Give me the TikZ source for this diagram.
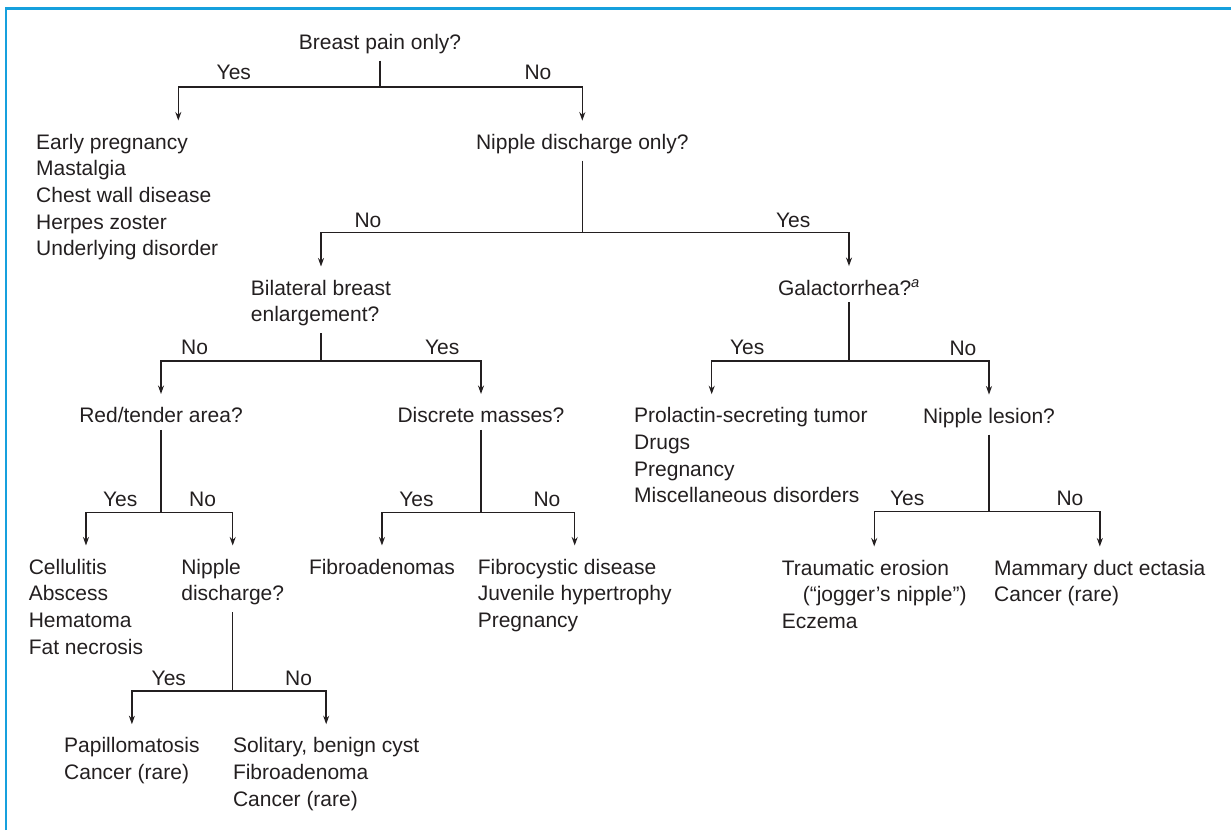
\documentclass[tikz,border=0pt]{standalone}
\usepackage{fontspec}
\setmainfont{Liberation Sans}
\usepackage{tikz}
\usetikzlibrary{arrows.meta}

\definecolor{framecyan}{RGB}{22,160,221}
\definecolor{inkgray}{RGB}{35,31,32}

\begin{document}
\begin{tikzpicture}[x=1pt, y=-1pt, >={Stealth[length=8.5pt, width=6pt]},
        every node/.style={inner sep=0pt, outer sep=0pt, text=inkgray,
            font=\fontsize{21}{26.6}\selectfont},
        ask/.style={anchor=base},
        asktwo/.style={anchor=north, align=left},
        list/.style={anchor=north west, align=left},
        ans/.style={anchor=base west},
        stem/.style={draw=inkgray, line width=1.4pt, shorten <=7pt},
        branch/.style={draw=inkgray, line width=1.4pt, ->, shorten >=13.5pt}]
            \useasboundingbox (0,0) rectangle (1231,830);
            \draw[framecyan, line width=2.8pt] (6,830) -- (6,8.5) -- (1231,8.5);

            % questions
            \node[ask] (q1) at (380,49.3) {Breast pain only?};
            \node[ask] (q2) at (582.3,149.3) {Nipple discharge only?};
            \node[asktwo] (q3) at (321,280) {Bilateral breast\\enlargement?};
            \node[ask] (q4) at (849,295) {Galactorrhea?\textsuperscript{\itshape a}};
            \node[ask] (q5) at (161,422.7) {Red/tender area?};
            \node[ask] (q6) at (481,422.7) {Discrete masses?};
            \node[ask] (q7) at (989,423.3) {Nipple lesion?};
            \node[asktwo] (q8) at (232.7,559) {Nipple\\discharge?};

            % outcomes
            \node[list] (a1) at (36.2,134) {Early pregnancy\\Mastalgia\\Chest wall disease\\Herpes zoster\\Underlying disorder};
            \node[list] (a2) at (634.2,407.7) {Prolactin-secreting tumor\\Drugs\\Pregnancy\\Miscellaneous disorders};
            \node[list] (a3) at (28.8,559) {Cellulitis\\Abscess\\Hematoma\\Fat necrosis};
            \node[list] (a4) at (309,559) {Fibroadenomas};
            \node[list] (a5) at (477.8,559) {Fibrocystic disease\\Juvenile hypertrophy\\Pregnancy};
            \node[list] (a6) at (781.8,560) {Traumatic erosion\\\hspace*{21pt}(“jogger’s nipple”)\\Eczema};
            \node[list] (a7) at (994.2,560) {Mammary duct ectasia\\Cancer (rare)};
            \node[list] (a8) at (64.2,737.7) {Papillomatosis\\Cancer (rare)};
            \node[list] (a9) at (233,737.7) {Solitary, benign cyst\\Fibroadenoma\\Cancer (rare)};

            % branch points
            \coordinate (j1) at (380,87);
            \coordinate (j2) at (582.3,232.3);
            \coordinate (j3) at (321,361);
            \coordinate (j4) at (849,361);
            \coordinate (j5) at (161,512.3);
            \coordinate (j6) at (481,512.3);
            \coordinate (j7) at (989,511.7);
            \coordinate (j8) at (232.7,691);
            \coordinate (a1in) at (178.3,134);
            \coordinate (a2in) at (711.7,407.7);

            \foreach \p/\j/\l/\r in {q1/j1/a1in/q2, q2/j2/q3/q4, q3/j3/q5/q6,
                    q4/j4/a2in/q7, q5/j5/a3/q8, q6/j6/a4/a5, q7/j7/a6/a7, q8/j8/a8/a9} {
                \draw[stem] (\p) -- (\j);
                \draw[branch] (\j) -| (\l);
                \draw[branch] (\j) -| (\r);
            }

            \foreach \t/\x/\y [count=\i] in {Yes/216.7/79.3, No/524.5/79,
                    No/354.5/227.7, Yes/776/227.7, No/181.2/354.3, Yes/425/354.3,
                    Yes/730/354.3, No/949.5/355, Yes/103/506, No/189.2/506,
                    Yes/399.3/506, No/533.5/506, Yes/890/505, No/1056.5/505,
                    Yes/151.7/685, No/285.2/685} {
                \node[ans] (lab\i) at (\x,\y) {\t};
            }
        \end{tikzpicture}
\end{document}
